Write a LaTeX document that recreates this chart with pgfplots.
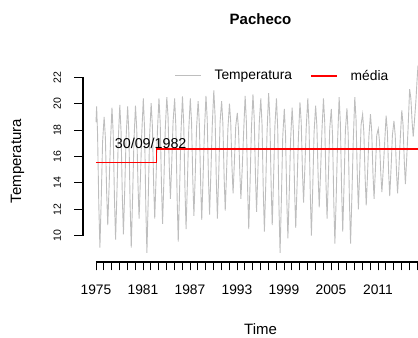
\documentclass[border=0pt]{standalone}
\usepackage{fontspec}
\setmainfont{Liberation Sans}
\usepackage{pgfplots}
\usepackage{pgfplotstable}
\pgfplotsset{compat=1.18}
\definecolor{tgray}{RGB}{190,190,190}
\definecolor{mred}{RGB}{255,0,0}
\pgfplotstableread{
x y
1975.00 18.6
1975.08 19.8
1975.20 17.7
1975.36 12.3
1975.50 9.1
1975.67 12.8
1975.84 17.1
1976.04 19.0
1976.20 17.4
1976.36 13.3
1976.50 10.8
1976.67 13.7
1976.84 17.0
1977.04 19.7
1977.20 17.7
1977.36 12.7
1977.50 9.7
1977.67 13.2
1977.84 17.2
1978.04 19.9
1978.20 17.9
1978.36 13.0
1978.50 10.1
1978.67 13.5
1978.84 17.4
1979.04 19.8
1979.20 17.7
1979.36 12.3
1979.50 9.1
1979.67 12.8
1979.84 17.1
1980.04 19.85
1980.20 18.1
1980.36 13.9
1980.50 11.3
1980.67 14.3
1980.84 17.7
1981.04 20.4
1981.20 18.1
1981.36 12.2
1981.50 8.7
1981.67 12.8
1981.84 17.5
1982.04 20.05
1982.20 18.3
1982.36 13.9
1982.50 11.3
1982.67 14.4
1982.84 17.9
1983.04 20.4
1983.20 18.5
1983.36 13.8
1983.50 10.9
1983.67 14.2
1983.84 18.0
1984.04 20.5
1984.20 19.0
1984.36 15.1
1984.50 12.8
1984.67 15.5
1984.84 18.6
1985.04 20.4
1985.20 18.2
1985.36 12.8
1985.50 9.55
1985.67 13.4
1985.84 17.7
1986.04 20.55
1986.20 18.5
1986.36 13.5
1986.50 10.5
1986.67 14.0
1986.84 18.0
1987.04 20.4
1987.20 18.6
1987.36 14.2
1987.50 11.5
1987.67 14.6
1987.84 18.2
1988.04 20.2
1988.20 18.4
1988.36 13.9
1988.50 11.2
1988.67 14.4
1988.84 17.9
1989.04 20.6
1989.20 18.8
1989.36 14.3
1989.50 11.6
1989.67 14.8
1989.84 18.3
1990.04 21.0
1990.20 19.1
1990.36 14.2
1990.50 11.3
1990.67 14.7
1990.84 18.6
1991.04 20.2
1991.20 18.5
1991.36 14.4
1991.50 11.9
1991.67 14.8
1991.84 18.1
1992.04 20.0
1992.20 18.6
1992.36 15.2
1992.50 13.2
1992.67 15.6
1992.84 18.3
1993.04 19.3
1993.20 18.0
1993.36 14.8
1993.50 12.8
1993.67 15.1
1993.84 17.7
1994.04 20.6
1994.20 18.6
1994.36 13.5
1994.50 10.5
1994.67 14.0
1994.84 18.1
1995.04 20.7
1995.20 18.9
1995.36 14.5
1995.50 11.8
1995.67 14.9
1995.84 18.5
1996.04 20.4
1996.20 18.4
1996.36 13.3
1996.50 10.3
1996.67 13.8
1996.84 17.9
1997.04 20.8
1997.20 18.8
1997.36 13.8
1997.50 10.8
1997.67 14.3
1997.84 18.3
1998.04 20.4
1998.20 18.1
1998.36 12.2
1998.50 8.7
1998.67 12.8
1998.84 17.5
1999.04 19.6
1999.20 17.6
1999.36 12.7
1999.50 9.8
1999.67 13.2
1999.84 17.2
2000.04 19.7
2000.20 17.9
2000.36 13.3
2000.50 10.6
2000.67 13.8
2000.84 17.4
2001.04 20.1
2001.20 18.6
2001.36 14.8
2001.50 12.5
2001.67 15.2
2001.84 18.2
2002.04 20.4
2002.20 18.3
2002.36 13.1
2002.50 10.0
2002.67 13.6
2002.84 17.8
2003.04 19.85
2003.20 18.3
2003.36 14.5
2003.50 12.15
2003.67 14.8
2003.84 17.9
2004.04 20.4
2004.20 18.6
2004.36 14.0
2004.50 11.3
2004.67 14.5
2004.84 18.1
2005.04 19.6
2005.20 17.6
2005.36 12.5
2005.50 9.4
2005.67 13.0
2005.84 17.1
2006.04 20.5
2006.20 18.5
2006.36 13.4
2006.50 10.3
2006.67 13.9
2006.84 18.0
2007.04 19.65
2007.20 17.6
2007.36 12.5
2007.50 9.4
2007.67 13.0
2007.84 17.1
2008.04 20.5
2008.20 18.8
2008.36 14.6
2008.50 12.0
2008.67 15.0
2008.84 18.4
2009.04 19.2
2009.20 17.8
2009.36 14.4
2009.50 12.3
2009.67 14.7
2009.84 17.5
2010.04 19.2
2010.20 17.9
2010.36 14.7
2010.50 12.8
2010.67 15.0
2010.84 17.6
2011.04 18.1
2011.20 17.1
2011.36 14.7
2011.50 13.3
2011.67 15.0
2011.84 16.9
2012.04 19.1
2012.20 17.9
2012.36 14.8
2012.50 13.0
2012.67 15.1
2012.84 17.6
2013.04 18.7
2013.20 17.6
2013.36 14.9
2013.50 13.2
2013.67 15.1
2013.84 17.3
2014.04 19.5
2014.20 18.4
2014.36 15.6
2014.50 13.9
2014.67 15.9
2014.84 18.1
2015.04 21.1
2015.20 20.4
2015.36 18.6
2015.50 17.5
2015.67 18.8
2015.84 20.2
2016.00 21.9
2016.11 22.9
}\temps
\begin{document}
\begin{tikzpicture}
\begin{axis}[
  x=7.833pt, y=13.2pt,
  xmin=1973.34, xmax=2016.11, ymin=8.01, ymax=23.3,
  axis x line*=bottom, axis y line*=left,
  x axis line style={black, line width=1.1pt, shorten <=13pt},
  y axis line style={black, line width=1.1pt, shorten <=26.3pt, shorten >=17.2pt},
  clip=false,
  tick align=outside,
  major tick length=8.5pt, minor tick length=8.5pt,
  xtick={1975,1981,...,2011},
  minor xtick={1975,...,2016},
  ytick={10,12,...,22},
  tick style={black, line width=0.8pt},
  /pgf/number format/assume math mode=true,
  /pgf/number format/1000 sep={},
  xticklabel shift=11pt,
  yticklabel shift=10pt,
  xticklabel style={font=\fontsize{13.8}{16}\selectfont},
  yticklabel style={rotate=90, anchor=south, font=\fontsize{10.5}{12}\selectfont},
  xlabel={Time},
  ylabel={Temperatura},
  xlabel style={at={(axis description cs:0.530,-0.332)}, anchor=center, font=\fontsize{15}{18}\selectfont},
  ylabel style={at={(axis description cs:-0.1955,0.5)}, anchor=center, rotate=0, font=\fontsize{15}{18}\selectfont},
  title={Pacheco},
  title style={at={(axis description cs:0.530,1.173)}, anchor=center, font=\fontsize{15}{18}\selectfont\bfseries},
  legend style={at={(axis cs:1984.62,22.12)}, anchor=west, draw=none, fill=none, legend columns=2,
    font=\fontsize{13.8}{16}\selectfont,
    /tikz/every even column/.append style={column sep=16pt}},
  legend image code/.code={\draw[#1] (0pt,0pt) -- (26pt,0pt); \path (37pt,0pt);},
]
\addplot[color=tgray, line width=0.9pt, forget plot] table[x=x,y=y] {\temps};
\addplot[color=mred, line width=1.6pt, forget plot] coordinates {(1975,15.55) (1982.74,15.55) (1982.74,16.55) (2016.11,16.55)};
\addlegendimage{color=tgray, line width=1.1pt}
\addlegendentry{Temperatura}
\addlegendimage{color=mred, line width=1.6pt}
\addlegendentry{média}
\node[font=\fontsize{14.3}{17}\selectfont] at (axis cs:1981.98,17.03) {30/09/1982};
\coordinate (bbA) at (axis cs:1962.744,27.856);
\coordinate (bbB) at (axis cs:2016.11,2.25);
\end{axis}
\pgfresetboundingbox
\path[use as bounding box] (bbA) rectangle (bbB);
\end{tikzpicture}
\end{document}
